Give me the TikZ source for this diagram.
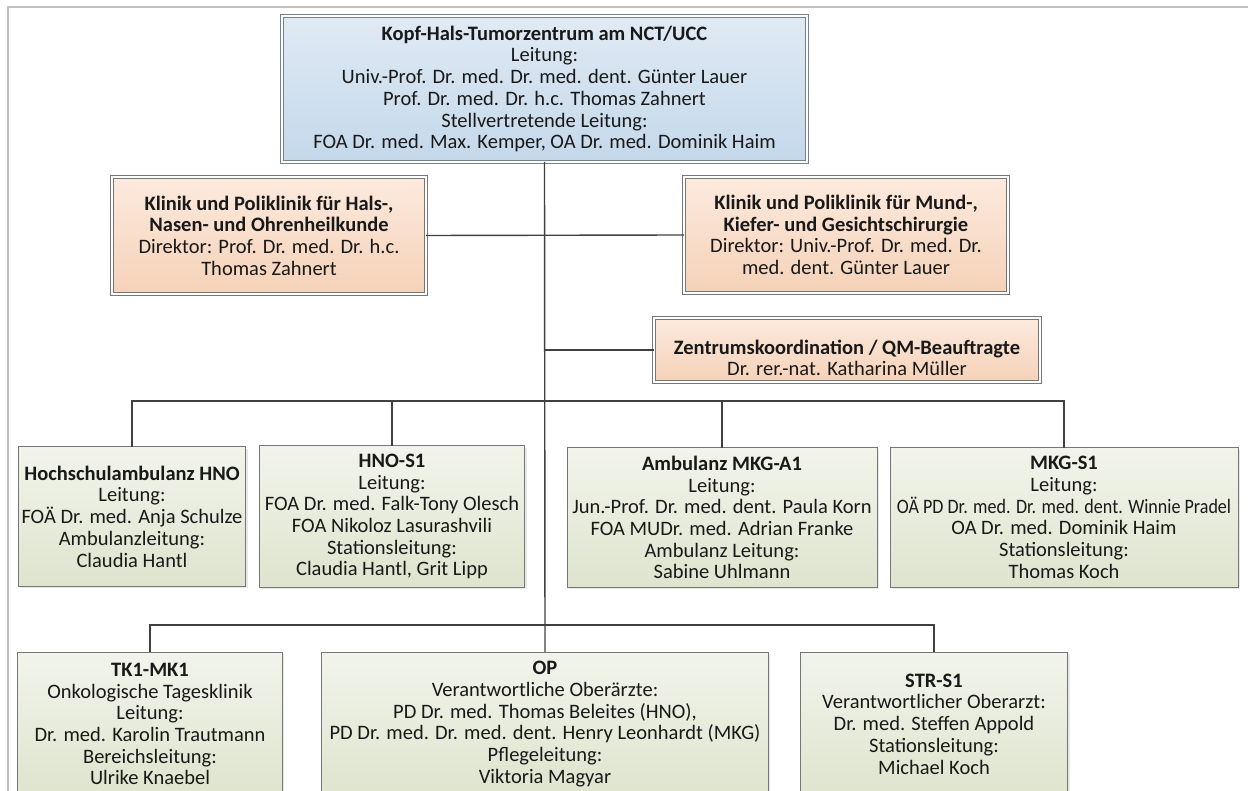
\documentclass[tikz,border=0pt]{standalone}
\usepackage{fontspec}
\setmainfont{Carlito}
\usepackage{tikz}
\usetikzlibrary{positioning, shadows}
\definecolor{framegray}{RGB}{192, 192, 192}
\definecolor{linegray}{RGB}{64, 64, 64}
\definecolor{edgegray}{RGB}{118, 118, 118}
\definecolor{edgeblue}{RGB}{115, 130, 145}
\definecolor{bluetop}{RGB}{224, 234, 244}
\definecolor{bluebot}{RGB}{196, 216, 234}
\definecolor{orangetop}{RGB}{252, 234, 222}
\definecolor{orangebot}{RGB}{245, 210, 184}
\definecolor{greentop}{RGB}{242, 244, 235}
\definecolor{greenbot}{RGB}{222, 228, 206}
\newcommand{\unitname}[1]{\textbf{#1}}

\begin{document}
\begin{tikzpicture}[x=1pt, y=-1pt,
    every node/.style={font=\fontsize{20.5}{21.7}\selectfont, text=black!90, align=center, inner sep=0pt, outer sep=0pt},
    orgbox/.style={draw=edgegray, line width=1pt, drop shadow={opacity=0.18, shadow xshift=2pt, shadow yshift=-2pt}},
    leadbox/.style={orgbox, line width=0.9pt, double=white, double distance=1.6pt},
    link/.style={draw=linegray, line width=1.4pt}]
    \useasboundingbox (0,0) rectangle (1248,791);
    \clip (0,0) rectangle (1248,791);

    % Frame
    \draw[framegray, line width=2pt] (8,800) -- (8,7) -- (1252,7);

    % Centre and clinics
    \node[leadbox, draw=edgeblue, top color=bluetop, bottom color=bluebot, minimum width=525, minimum height=146] (zentrum) at (544.5,89)
        {\unitname{Kopf-Hals-Tumorzentrum am NCT/UCC}\\ Leitung:\\ Univ.-Prof. Dr. med. Dr. med. dent. Günter Lauer\\ Prof. Dr. med. Dr. h.c. Thomas Zahnert\\ Stellvertretende Leitung:\\ FOA Dr. med. Max. Kemper, OA Dr. med. Dominik Haim};
    \node[leadbox, top color=orangetop, bottom color=orangebot, minimum width=314, minimum height=117] (hnoklinik) at (269,235.5)
        {\unitname{Klinik und Poliklinik für Hals-,}\\ \unitname{Nasen- und Ohrenheilkunde}\\ Direktor: Prof. Dr. med. Dr. h.c.\\ Thomas Zahnert};
    \node[leadbox, top color=orangetop, bottom color=orangebot, minimum width=324, minimum height=116] (mkgklinik) at (846,235)
        {\unitname{Klinik und Poliklinik für Mund-,}\\ \unitname{Kiefer- und Gesichtschirurgie}\\ Direktor: Univ.-Prof. Dr. med. Dr.\\ med. dent. Günter Lauer};
    \node[leadbox, top color=orangetop, bottom color=orangebot, minimum width=386, minimum height=64] (koord) at (847,350)
        {\rule{0pt}{30pt}\unitname{Zentrumskoordination / QM-Beauftragte}\\ Dr. rer.-nat. Katharina Müller};

    % Units, first row
    \node[orgbox, top color=greentop, bottom color=greenbot, minimum width=227.5, minimum height=139] (hochschul) at (132,516.5)
        {\unitname{Hochschulambulanz HNO}\\ Leitung:\\ FOÄ Dr. med. Anja Schulze\\ Ambulanzleitung:\\ Claudia Hantl};
    \node[orgbox, top color=greentop, bottom color=greenbot, minimum width=265, minimum height=141] (hnos1) at (392,516.5)
        {\unitname{HNO-S1}\\ Leitung:\\ FOA Dr. med. Falk-Tony Olesch\\ FOA Nikoloz Lasurashvili\\ Stationsleitung:\\ Claudia Hantl, Grit Lipp};
    \node[orgbox, top color=greentop, bottom color=greenbot, minimum width=310, minimum height=139] (ambulanz) at (722,517.5)
        {\unitname{Ambulanz MKG-A1}\\ Leitung:\\ Jun.-Prof. Dr. med. dent. Paula Korn\\ FOA MUDr. med. Adrian Franke\\ Ambulanz Leitung:\\ Sabine Uhlmann};
    \node[orgbox, top color=greentop, bottom color=greenbot, minimum width=348, minimum height=139] (mkgs1) at (1064,517.5)
        {\unitname{MKG-S1}\\ Leitung:\\ \scalebox{0.88}[1]{OÄ PD Dr. med. Dr. med. dent. Winnie Pradel}\\ OA Dr. med. Dominik Haim\\ Stationsleitung:\\ Thomas Koch};

    % Units, second row
    \node[orgbox, top color=greentop, bottom color=greenbot, minimum width=264.5, minimum height=144] (tk1) at (150,724)
        {\unitname{TK1-MK1}\\ Onkologische Tagesklinik\\ Leitung:\\ Dr. med. Karolin Trautmann\\ Bereichsleitung:\\ Ulrike Knaebel};
    \node[orgbox, top color=greentop, bottom color=greenbot, minimum width=446.5, minimum height=144] (op) at (545,724)
        {\unitname{OP}\\ Verantwortliche Oberärzte:\\ PD Dr. med. Thomas Beleites (HNO),\\ PD Dr. med. Dr. med. dent. Henry Leonhardt (MKG)\\ Pflegeleitung:\\ Viktoria Magyar};
    \node[orgbox, top color=greentop, bottom color=greenbot, minimum width=267.5, minimum height=144] (strs1) at (934,724)
        {\unitname{STR-S1}\\ Verantwortlicher Oberarzt:\\ Dr. med. Steffen Appold\\ Stationsleitung:\\ Michael Koch};

    % Connectors
    \coordinate (bus1) at (545,401);
    \coordinate (bus2) at (545,625);
    \draw[link] (zentrum.south) -- (op.north);
    \draw[link] (hnoklinik.east) -- (mkgklinik.west);
    \draw[link] (koord.west) -- (koord.west -| zentrum.south);
    \draw[link] (hochschul.north) |- (bus1) -| (mkgs1.north);
    \foreach \n in {hnos1, ambulanz}
        {\draw[link] (\n.north) -- (\n.north |- bus1);}
    \draw[link] (tk1.north) |- (bus2) -| (strs1.north);
\end{tikzpicture}
\end{document}
